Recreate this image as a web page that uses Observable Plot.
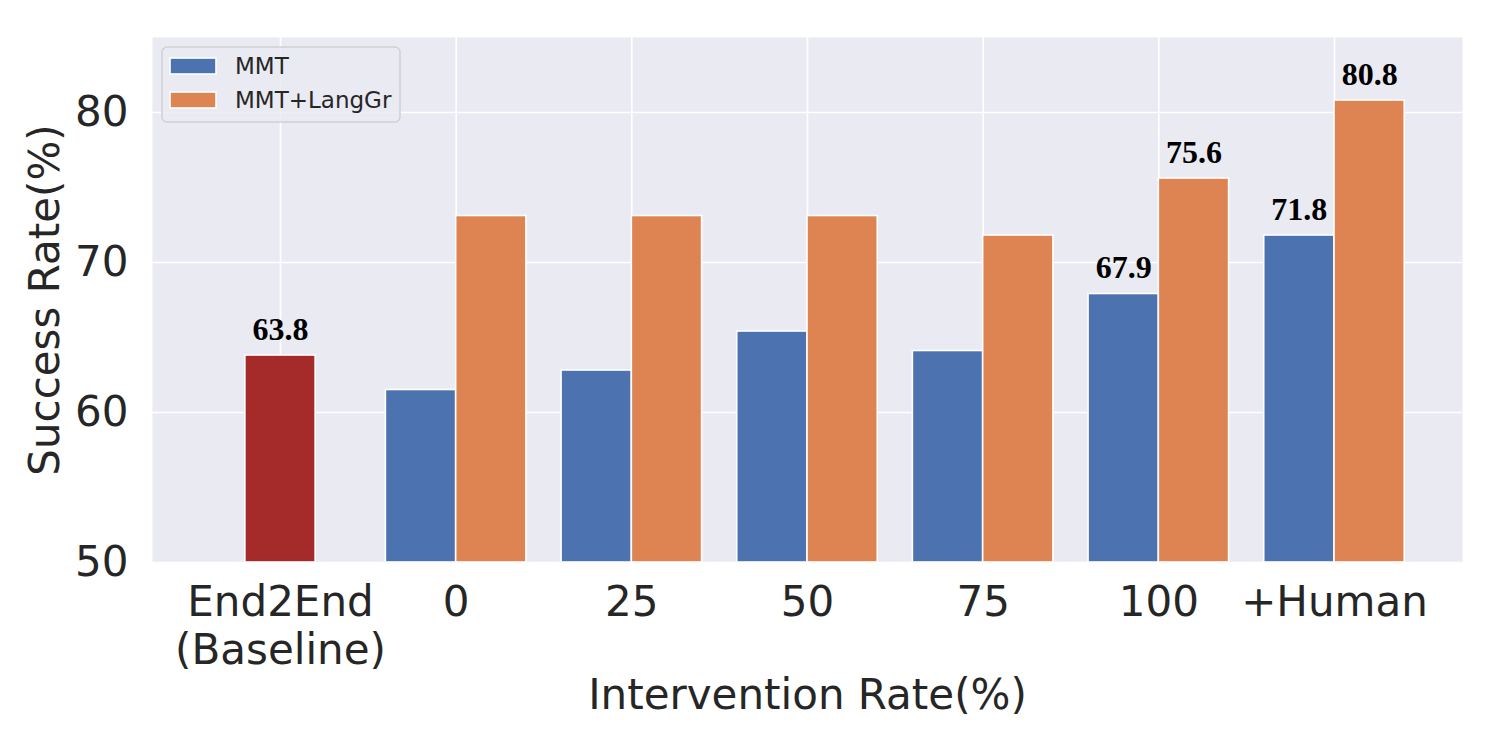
<!DOCTYPE html>
<html>
<head>
<meta charset="utf-8">
<script src="https://cdn.jsdelivr.net/npm/d3@7"></script>
<script src="https://cdn.jsdelivr.net/npm/@observablehq/plot@0.6"></script>
<style>
  html, body { margin: 0; padding: 0; background: #fff; }
  #chart { position: relative; width: 1500px; height: 750px; }
</style>
</head>
<body>
<div id="chart"></div>
<script>
// ---- data ----
const categories = ["End2End\n(Baseline)", "0", "25", "50", "75", "100", "+Human"];
const baselineValue = 63.8;
const mmt = [61.5, 62.8, 65.4, 64.1, 67.9, 71.8];      // categories 0..+Human
const mmtLangGr = [73.1, 73.1, 73.1, 71.8, 75.6, 80.8];
const labeledIdx = [4, 5];                              // bars with value labels (100, +Human)
const seriesNames = ["MMT", "MMT+LangGr"];
const colors = { "Baseline": "#A52A2A", "MMT": "#4C72B0", "MMT+LangGr": "#DD8452" };
const yTicks = [50, 60, 70, 80];
const yLabel = "Success Rate(%)";
const xLabel = "Intervention Rate(%)";

// ---- build rows ----
const barW = 0.4;
const rows = [];
rows.push({ series: "Baseline", x1: -barW / 2, x2: barW / 2, value: baselineValue, label: true });
mmt.forEach((v, k) => rows.push({ series: "MMT", x1: k + 1 - barW, x2: k + 1, value: v, label: labeledIdx.includes(k) }));
mmtLangGr.forEach((v, k) => rows.push({ series: "MMT+LangGr", x1: k + 1, x2: k + 1 + barW, value: v, label: labeledIdx.includes(k) }));
const labels = rows.filter(d => d.label);

const text = "#262626";
const chart = Plot.plot({
  width: 1500,
  height: 750,
  marginLeft: 152,
  marginRight: 38,
  marginTop: 37,
  marginBottom: 188,
  style: { fontFamily: "DejaVu Sans", fontSize: "42px", color: text, background: "#fff" },
  x: { type: "linear", domain: [-0.7287, 6.7287] },
  y: { domain: [50, 85] },
  marks: [
    Plot.frame({ fill: "#EAEAF2", stroke: null }),
    Plot.gridX(d3.range(categories.length), { stroke: "#fff", strokeOpacity: 1, strokeWidth: 1.6 }),
    Plot.gridY(yTicks, { stroke: "#fff", strokeOpacity: 1, strokeWidth: 1.6 }),
    Plot.rectY(rows, { x1: "x1", x2: "x2", y1: 50, y2: "value", fill: d => colors[d.series], stroke: "#fff", strokeWidth: 1.6 }),
    Plot.text(labels, {
      x: d => (d.x1 + d.x2) / 2, y: "value", text: d => d.value.toFixed(1),
      dy: -16, lineAnchor: "bottom", fontFamily: "Liberation Serif", fontWeight: "bold", fontSize: 32, fill: "#000"
    }),
    Plot.axisY(yTicks, { tickSize: 0, tickPadding: 24, label: null, fontSize: 42, fill: text }),
    Plot.axisX(d3.range(categories.length), {
      tickSize: 0, tickPadding: 20, label: null, tickFormat: i => categories[i],
      fontSize: 42, lineHeight: 1.13, fill: text
    }),
    Plot.text([yLabel], { frameAnchor: "left", dx: -107, rotate: -90, fontSize: 42, fill: text, textAnchor: "middle", lineAnchor: "middle" }),
    Plot.text([xLabel], { frameAnchor: "bottom", dy: 133, fontSize: 42, fill: text, textAnchor: "middle", lineAnchor: "middle" })
  ]
});
document.getElementById("chart").appendChild(chart);

// ---- legend (inside plot, top-left) ----
const svg = d3.select(chart);
const lg = svg.append("g");
lg.append("rect").attr("x", 162).attr("y", 47).attr("width", 238).attr("height", 75)
  .attr("rx", 5).attr("fill", "#EAEAF2").attr("fill-opacity", 0.8).attr("stroke", "#d0d0d6").attr("stroke-width", 1.5);
seriesNames.forEach((name, k) => {
  const y = 58 + k * 34;
  lg.append("rect").attr("x", 170).attr("y", y).attr("width", 46).attr("height", 16)
    .attr("fill", colors[name]).attr("stroke", "#fff").attr("stroke-width", 1.6);
  lg.append("text").attr("x", 235).attr("y", y + 16)
    .style("font-family", "DejaVu Sans").style("font-size", "23px").style("text-anchor", "start")
    .attr("fill", text).text(name);
});
</script>
</body>
</html>
